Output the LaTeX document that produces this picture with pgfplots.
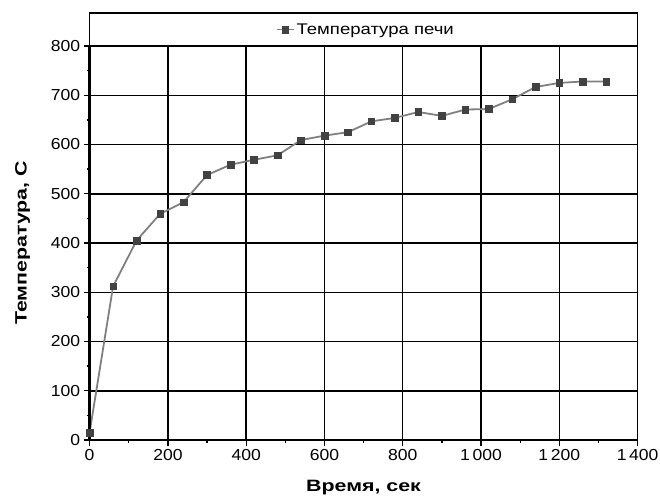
\documentclass[border=0pt]{standalone}
\usepackage{fontspec}
\setmainfont{Liberation Sans}[FakeStretch=1.1]
\newfontfamily\labelfont{Liberation Sans}[FakeStretch=1.3]
\newfontfamily\legfont{Liberation Sans}[FakeStretch=1.2]
\usepackage{pgfplots}
\pgfplotsset{compat=1.18}
\definecolor{linegray}{RGB}{128,128,128}
\definecolor{markgray}{RGB}{66,66,66}
\pgfplotstableread{
t T
0 15
60 312
120 405
180 459
240 483
300 538
360 559
420 569
480 578
540 609
600 618
660 625
720 647
780 654
840 666
900 658
960 671
1020 672
1080 692
1140 717
1200 725
1260 728
1320 728
}\furnace
\begin{document}
\begin{tikzpicture}
\begin{axis}[name=ax, at={(0,0)}, anchor=south west,
 scale only axis, width=548bp, height=394bp,
 xmin=0, xmax=1400, ymin=0, ymax=800,
 xtick={0,200,...,1400}, ytick={0,100,...,800},
 xticklabels={0,200,400,600,800,1\,000,1\,200,1\,400},
 yticklabels={0,100,200,300,400,500,600,700,800},
 minor x tick num=1, minor y tick num=1,
 grid=major, major grid style={black, line width=1.5bp},
 tick align=outside, tick pos=left,
 major tick length=6bp, minor tick length=3bp,
 every tick/.style={black, line width=1.3bp},
 axis line style={line width=1.4bp},
 tick label style={font=\fontsize{16}{18}\selectfont},
 xlabel={Время, сек}, ylabel={Температура, С},
 label style={font=\labelfont\bfseries\fontsize{16.5}{19}\selectfont},
 xlabel style={anchor=center, at={(axis description cs:0.5,-0.1218)}},
 ylabel style={anchor=center, at={(axis description cs:-0.1223,0.5)}},
 clip=false,
 legend style={draw=none, fill=none, at={(0.504,1.042)}, anchor=center,
   font=\legfont\fontsize{15.5}{18}\selectfont, inner sep=1bp},
]
\addplot[linegray, line width=1.8bp, mark=square*, mark size=3.3bp,
  mark options={fill=markgray, draw=markgray, line width=0.5bp}] table[x=t,y=T] {\furnace};
\addlegendentry{Температура печи}
\draw[line width=2.6bp] (rel axis cs:0,1) -- (rel axis cs:0,0) -- (rel axis cs:1,0);
\draw[line width=1.4bp] (rel axis cs:0,1) rectangle (rel axis cs:1,1.0838);
\end{axis}
\pgfresetboundingbox
\path (-89.6bp,-57bp) rectangle (570.4bp,440bp);
\end{tikzpicture}
\end{document}
